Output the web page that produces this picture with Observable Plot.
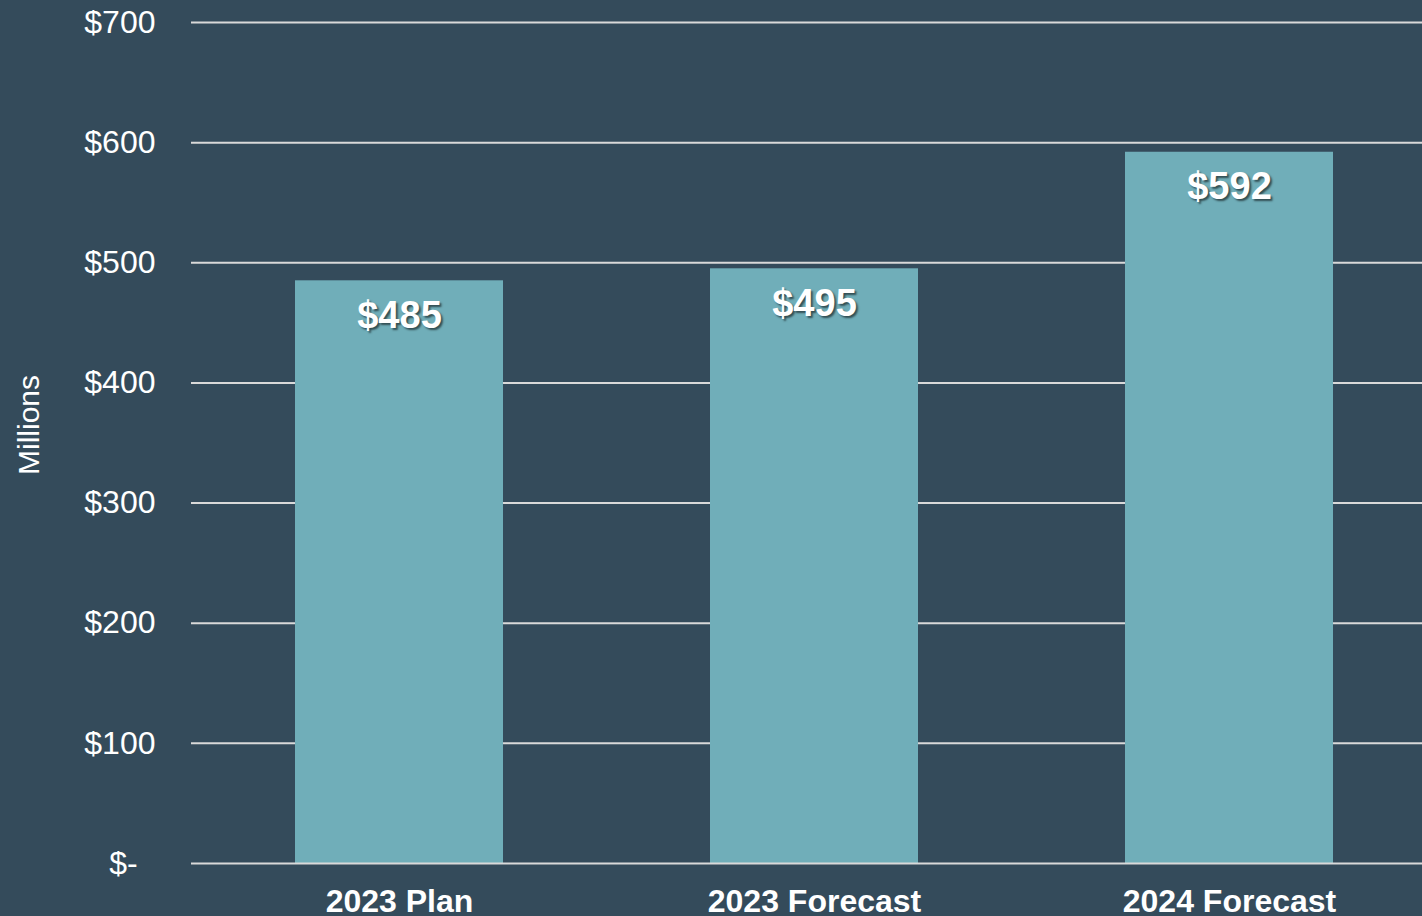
<!DOCTYPE html>
<html>
<head>
<meta charset="utf-8">
<script src="https://cdn.jsdelivr.net/npm/d3@7"></script>
<script src="https://cdn.jsdelivr.net/npm/@observablehq/plot@0.6"></script>
<style>
  html, body { margin: 0; padding: 0; background: #344b5b; overflow: hidden; }
  .barlabel text { text-shadow: 2px 2px 2px rgba(0,0,0,0.55); }
</style>
</head>
<body>
<div id="chart"></div>
<script>
const categories = ["2023 Plan", "2023 Forecast", "2024 Forecast"];
const values = [485, 495, 592];
const yTicks = [0, 100, 200, 300, 400, 500, 600, 700];
const yLabel = "Millions";

const data = categories.map((c, i) => ({category: c, value: values[i]}));
const fmt = d => d === 0 ? "$-\u00A0\u00A0" : "$" + d;

const chart = Plot.plot({
  width: 1422,
  height: 916,
  marginLeft: 191,
  marginRight: 0,
  marginTop: 22,
  marginBottom: 53,
  style: {
    background: "#344b5b",
    color: "white",
    fontFamily: "'Liberation Sans', Arial, sans-serif"
  },
  x: {domain: categories, range: [191, 1436], paddingInner: 0.5, paddingOuter: 0.25, label: null},
  y: {domain: [0, 700], label: null},
  marks: [
    Plot.ruleY(yTicks.filter(d => d !== 0), {stroke: "#d9d9d9", strokeWidth: 2}),
    Plot.barY(data, {x: "category", y: "value", fill: "#70aeb9", inset: 0}),
    Plot.ruleY([0], {stroke: "#d9d9d9", strokeWidth: 2}),
    Plot.axisY({ticks: yTicks, tickSize: 0, tickPadding: 36, tickFormat: fmt, fontSize: 32, fill: "white", label: null}),
    Plot.axisX({tickSize: 0, tickPadding: 26, fontSize: 32, fontWeight: "bold", fill: "white", label: null}),
    Plot.text(data, {
      x: "category", y: "value", text: d => "$" + d.value,
      dy: 35, lineAnchor: "middle", textAnchor: "middle",
      fill: "white", fontSize: 38, fontWeight: "bold", className: "barlabel"
    }),
    Plot.text([yLabel], {
      frameAnchor: "left", text: d => d, rotate: -90,
      dx: -162, dy: -18, lineAnchor: "middle", textAnchor: "middle",
      fill: "white", fontSize: 30
    })
  ]
});
document.getElementById("chart").appendChild(chart);
// ensure shadow applied to bar labels even if className unsupported
d3.select(chart).selectAll("g[aria-label='text']").filter((d, i) => i === 0)
  .selectAll("text").style("text-shadow", "2px 2px 2px rgba(0,0,0,0.55)");
</script>
</body>
</html>
